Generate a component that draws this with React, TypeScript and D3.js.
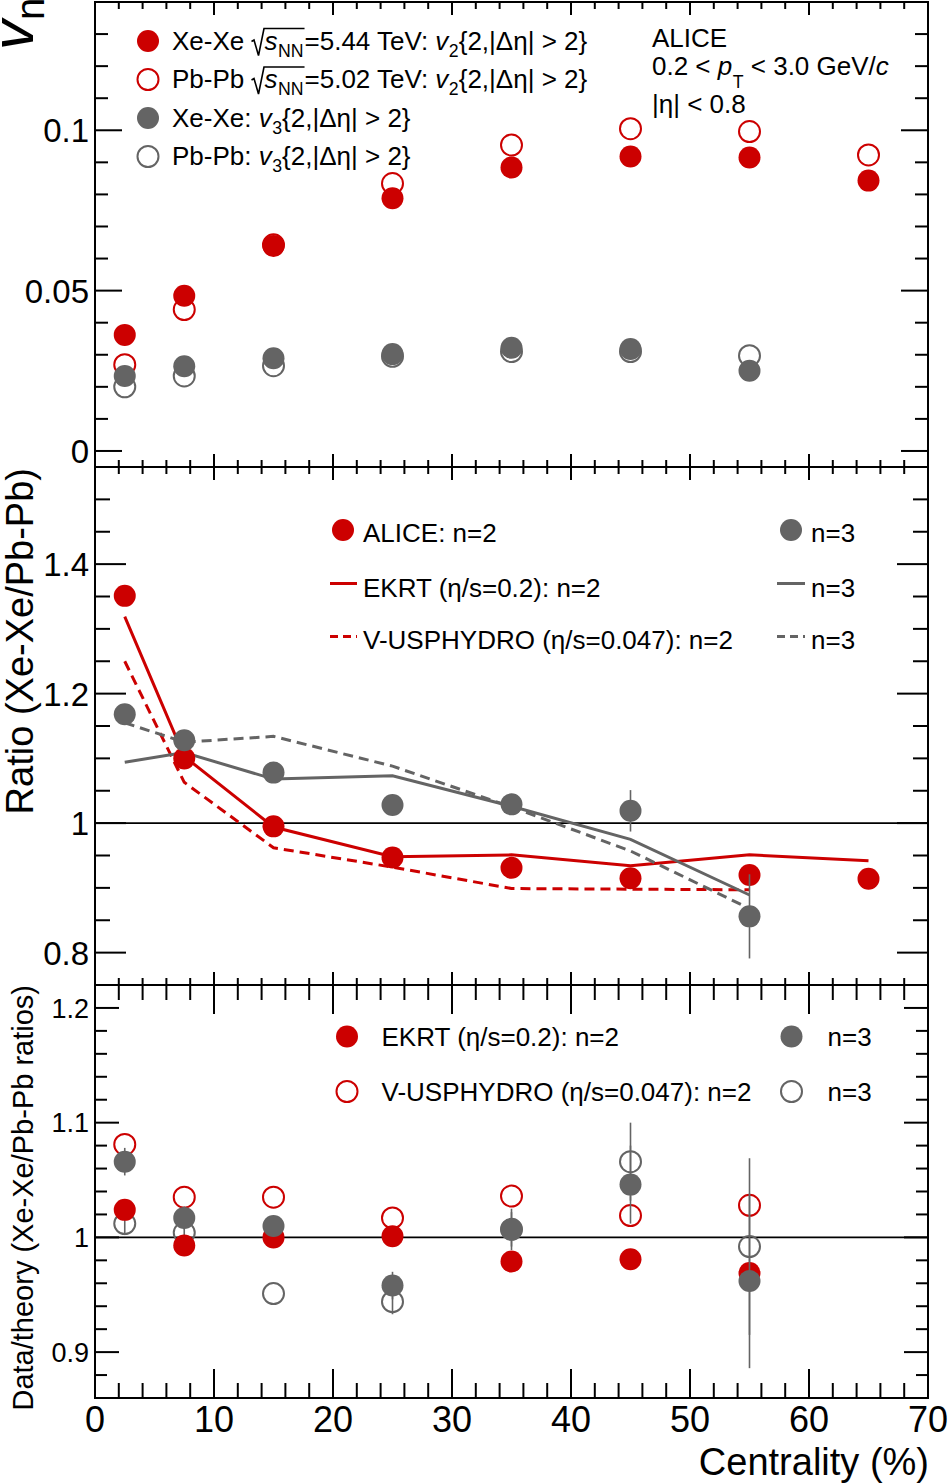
import React, { useRef, useEffect } from 'react';
import * as d3 from 'd3';

// centrality bin centres (%)
const centrality = [2.5, 7.5, 15, 25, 35, 45, 55, 65];

// top panel: v_n{2,|deta|>2}
const xeV2 = [0.0362, 0.0484, 0.0639, 0.0788, 0.0884, 0.0918, 0.0915, 0.0843];
const pbV2 = [0.0269, 0.0441, 0.0643, 0.0834, 0.0954, 0.1005, 0.0996, 0.0923];
const xeV3 = [0.0234, 0.0264, 0.0289, 0.0302, 0.0322, 0.0318, 0.0250];
const pbV3 = [0.0200, 0.0234, 0.0266, 0.0295, 0.0310, 0.0310, 0.0297];

// middle panel: Xe-Xe / Pb-Pb ratios
const ratioV2 = [1.351, 1.100, 0.995, 0.947, 0.931, 0.915, 0.920, 0.914];
const ratioV3 = [1.168, 1.128, 1.078, 1.028, 1.029, 1.019, 0.856];
const ratioV3Err = [0.004, 0.004, 0.005, 0.006, 0.008, 0.032, 0.065];
const ekrtV2 = [1.319, 1.103, 0.994, 0.948, 0.951, 0.934, 0.951, 0.942];
const ekrtV3 = [1.094, 1.109, 1.068, 1.073, 1.026, 0.975, 0.889];
const vusV2 = [1.250, 1.063, 0.962, 0.932, 0.899, 0.898, 0.897];
const vusV3 = [1.155, 1.125, 1.134, 1.088, 1.025, 0.957, 0.868];

// bottom panel: data / theory
const dtEkrtV2 = [1.024, 0.993, 1.000, 1.001, 0.979, 0.981, 0.969];
const dtVusV2 = [1.081, 1.035, 1.035, 1.017, 1.036, 1.019, 1.028];
const dtEkrtV3 = [1.066, 1.017, 1.010, 0.958, 1.007, 1.046, 0.962];
const dtEkrtV3Err = [0.012, 0.010, 0.006, 0.012, 0.018, 0.034, 0.076];
const dtVusV3 = [1.012, 1.004, 0.951, 0.944, 1.007, 1.066, 0.992];
const dtVusV3Err = [0.010, 0.009, 0.000, 0.011, 0.015, 0.034, 0.077];

// axis ticks
const xTicks = [0, 10, 20, 30, 40, 50, 60, 70];
const topYTicks = [0, 0.05, 0.1];
const topYLabels = ['0', '0.05', '0.1'];
const midYTicks = [0.8, 1.0, 1.2, 1.4];
const midYLabels = ['0.8', '1', '1.2', '1.4'];
const botYTicks = [0.9, 1.0, 1.1, 1.2];
const botYLabels = ['0.9', '1', '1.1', '1.2'];

const RED = '#cc0000';
const GRAY = '#646464';
const FONT = '"Liberation Sans", Arial, Helvetica, sans-serif';
const LEG = 26;

type Part = { t: string; it?: boolean; sub?: string; shift?: number } | { sqrt: Part[] };
type G = d3.Selection<SVGGElement, unknown, null, undefined>;

function richText(g: G, x: number, y: number, parts: Part[], size: number): number {
  let cx = x;
  for (const p of parts) {
    if ('sqrt' in p) {
      const x0 = cx;
      const end = richText(g, x0 + 13, y, p.sqrt, size);
      g.append('path')
        .attr('d', `M${x0},${y - 8} L${x0 + 2.5},${y - 9.5} L${x0 + 7},${y + 6} L${x0 + 12.5},${y - 21} L${end + 1},${y - 21}`)
        .attr('fill', 'none').attr('stroke', '#000').attr('stroke-width', 1.6);
      cx = end + 1;
      continue;
    }
    const t = g.append('text')
      .attr('x', cx).attr('y', y)
      .attr('font-size', size).attr('font-family', FONT)
      .attr('font-style', p.it ? 'italic' : 'normal')
      .style('white-space', 'pre')
      .text(p.t);
    let w = (t.node() as SVGTextElement).getComputedTextLength();
    if (p.sub) {
      const s = g.append('text')
        .attr('x', cx + w + 0.5).attr('y', y + size * (p.shift ?? 0.27))
        .attr('font-size', size * 0.68).attr('font-family', FONT)
        .text(p.sub);
      w += (s.node() as SVGTextElement).getComputedTextLength() + 0.5;
    }
    cx += w;
  }
  return cx;
}

const App: React.FC = () => {
  const svgRef = useRef<SVGSVGElement>(null);

  useEffect(() => {
    if (!svgRef.current) return;
    const svg = d3.select(svgRef.current);
    svg.selectAll('*').remove();

    const x = d3.scaleLinear().domain([0, 70]).range([95, 928]);
    const yTop = d3.scaleLinear().domain([-0.005, 0.14]).range([467, 2]);
    const yMid = d3.scaleLinear().domain([0.75, 1.55]).range([985, 467]);
    const yBot = d3.scaleLinear().domain([0.86, 1.22]).range([1398, 985]);

    const root = svg.append('g') as G;

    const line = (g: G, x1: number, y1: number, x2: number, y2: number, w = 2) =>
      g.append('line').attr('x1', x1).attr('y1', y1).attr('x2', x2).attr('y2', y2)
        .attr('stroke', '#000').attr('stroke-width', w);

    // frame with ticks on all four sides
    const frame = (
      y: d3.ScaleLinear<number, number>, majors: number[], labels: string[], minorStep: number,
      yMaj: number, yMin: number, xMaj: number, xMin: number, labelSize: number,
    ) => {
      const g = root.append('g') as G;
      const [yb, yt] = y.range();
      const [d0, d1] = y.domain();
      const xl = x(0), xr = x(70);
      xTicks.forEach(v => {
        line(g, x(v), yb, x(v), yb - xMaj);
        line(g, x(v), yt, x(v), yt + xMaj);
      });
      d3.range(2, 70, 2).filter(v => v % 10 !== 0).forEach(v => {
        line(g, x(v), yb, x(v), yb - xMin);
        line(g, x(v), yt, x(v), yt + xMin);
      });
      majors.forEach((v, i) => {
        line(g, xl, y(v), xl + yMaj, y(v));
        line(g, xr, y(v), xr - yMaj, y(v));
        g.append('text').attr('x', 89).attr('y', y(v)).attr('dy', '0.36em')
          .attr('text-anchor', 'end').attr('font-size', labelSize).attr('font-family', FONT)
          .text(labels[i]);
      });
      const i0 = Math.ceil(d0 / minorStep - 1e-6);
      const i1 = Math.floor(d1 / minorStep + 1e-6);
      d3.range(i0, i1 + 1).map(i => i * minorStep)
        .filter(v => !majors.some(m => Math.abs(m - v) < 1e-6))
        .filter(v => Math.abs(y(v) - yb) > 1 && Math.abs(y(v) - yt) > 1)
        .forEach(v => {
          line(g, xl, y(v), xl + yMin, y(v));
          line(g, xr, y(v), xr - yMin, y(v));
        });
      g.append('rect').attr('x', xl).attr('y', yt).attr('width', xr - xl).attr('height', yb - yt)
        .attr('fill', 'none').attr('stroke', '#000').attr('stroke-width', 2);
    };

    const marker = (g: G, cx: number, cy: number, color: string, filled: boolean) =>
      g.append('circle').attr('cx', cx).attr('cy', cy).attr('r', filled ? 11 : 10.5)
        .attr('fill', filled ? color : 'none')
        .attr('stroke', filled ? 'none' : color).attr('stroke-width', 2);

    const series = (
      y: d3.ScaleLinear<number, number>, vals: number[], color: string, filled: boolean, errs?: number[],
    ) => {
      const g = root.append('g') as G;
      vals.forEach((v, i) => {
        if (errs && errs[i] > 0) {
          g.append('line').attr('x1', x(centrality[i])).attr('x2', x(centrality[i]))
            .attr('y1', y(v - errs[i])).attr('y2', y(v + errs[i]))
            .attr('stroke', color).attr('stroke-width', 1.6);
        }
        marker(g, x(centrality[i]), y(v), color, filled);
      });
    };

    const model = (y: d3.ScaleLinear<number, number>, vals: number[], color: string, dash?: string) => {
      const path = d3.line<number>().x((_, i) => x(centrality[i])).y(v => y(v));
      root.append('path').attr('d', path(vals) ?? '')
        .attr('fill', 'none').attr('stroke', color).attr('stroke-width', 3)
        .attr('stroke-dasharray', dash ?? null);
    };

    const unity = (y: d3.ScaleLinear<number, number>) =>
      line(root, x(0), y(1), x(70), y(1), 1.8);

    // ---------- top panel ----------
    frame(yTop, topYTicks, topYLabels, 0.01, 27, 13, 13, 7, 33);
    series(yTop, pbV2, RED, false);
    series(yTop, pbV3, GRAY, false);
    series(yTop, xeV2, RED, true);
    series(yTop, xeV3, GRAY, true);

    const leg = root.append('g') as G;
    const topRows: { filled: boolean; color: string; parts: Part[] }[] = [
      { filled: true, color: RED, parts: [{ t: 'Xe-Xe ' }, { sqrt: [{ t: 's', it: true, sub: 'NN' }] }, { t: '=5.44 TeV: ' }, { t: 'v', it: true, sub: '2' }, { t: '{2,|Δη| > 2}' }] },
      { filled: false, color: RED, parts: [{ t: 'Pb-Pb ' }, { sqrt: [{ t: 's', it: true, sub: 'NN' }] }, { t: '=5.02 TeV: ' }, { t: 'v', it: true, sub: '2' }, { t: '{2,|Δη| > 2}' }] },
      { filled: true, color: GRAY, parts: [{ t: 'Xe-Xe: ' }, { t: 'v', it: true, sub: '3' }, { t: '{2,|Δη| > 2}' }] },
      { filled: false, color: GRAY, parts: [{ t: 'Pb-Pb: ' }, { t: 'v', it: true, sub: '3' }, { t: '{2,|Δη| > 2}' }] },
    ];
    topRows.forEach((r, i) => {
      const base = 49.5 + i * 38.5;
      marker(leg, 148, base - 8.5, r.color, r.filled);
      richText(leg, 172, base, r.parts, LEG);
    });
    richText(leg, 652, 47, [{ t: 'ALICE' }], LEG);
    richText(leg, 652, 75, [{ t: '0.2 < ' }, { t: 'p', it: true, sub: 'T', shift: 0.5 }, { t: ' < 3.0 GeV/' }, { t: 'c', it: true }], LEG);
    richText(leg, 652, 113, [{ t: '|η| < 0.8' }], LEG);

    // y title top: v_n
    root.append('text').attr('transform', 'translate(33,50) rotate(-90)')
      .attr('font-family', FONT)
      .call(t => {
        t.append('tspan').attr('font-size', 60).attr('font-style', 'italic').text('v');
        t.append('tspan').attr('font-size', 40).attr('dy', 11).text('n');
      });

    // ---------- middle panel ----------
    frame(yMid, midYTicks, midYLabels, 0.05, 31, 15, 13, 7, 33);
    unity(yMid);
    model(yMid, ekrtV2, RED);
    model(yMid, vusV2, RED, '10,6');
    model(yMid, ekrtV3, GRAY);
    model(yMid, vusV3, GRAY, '10,6');
    series(yMid, ratioV2, RED, true);
    series(yMid, ratioV3, GRAY, true, ratioV3Err);

    const leg2 = root.append('g') as G;
    marker(leg2, 343, 530, RED, true);
    line(leg2, 330, 583.5, 357, 583.5, 3).attr('stroke', RED);
    line(leg2, 330, 636.5, 357, 636.5, 3).attr('stroke', RED).attr('stroke-dasharray', '8,5');
    richText(leg2, 363, 541.5, [{ t: 'ALICE: n=2' }], LEG);
    richText(leg2, 363, 596.5, [{ t: 'EKRT (η/s=0.2): n=2' }], LEG);
    richText(leg2, 363, 648.5, [{ t: 'V-USPHYDRO (η/s=0.047): n=2' }], LEG);
    marker(leg2, 791, 530, GRAY, true);
    line(leg2, 777, 583.5, 805, 583.5, 3).attr('stroke', GRAY);
    line(leg2, 777, 636.5, 805, 636.5, 3).attr('stroke', GRAY).attr('stroke-dasharray', '8,5');
    richText(leg2, 811, 541.5, [{ t: 'n=3' }], LEG);
    richText(leg2, 811, 596.5, [{ t: 'n=3' }], LEG);
    richText(leg2, 811, 648.5, [{ t: 'n=3' }], LEG);

    root.append('text').attr('transform', 'translate(33,468) rotate(-90)')
      .attr('text-anchor', 'end').attr('font-size', 38).attr('font-family', FONT)
      .text('Ratio (Xe-Xe/Pb-Pb)');

    // ---------- bottom panel ----------
    frame(yBot, botYTicks, botYLabels, 0.02, 24, 12, 29, 15, 27);
    unity(yBot);
    series(yBot, dtVusV2, RED, false);
    series(yBot, dtVusV3, GRAY, false, dtVusV3Err);
    series(yBot, dtEkrtV2, RED, true);
    series(yBot, dtEkrtV3, GRAY, true, dtEkrtV3Err);

    const leg3 = root.append('g') as G;
    marker(leg3, 347, 1036.5, RED, true);
    marker(leg3, 347, 1091.5, RED, false);
    marker(leg3, 791.5, 1036.5, GRAY, true);
    marker(leg3, 791.5, 1091.5, GRAY, false);
    richText(leg3, 381.5, 1045.5, [{ t: 'EKRT (η/s=0.2): n=2' }], LEG);
    richText(leg3, 381.5, 1100.5, [{ t: 'V-USPHYDRO (η/s=0.047): n=2' }], LEG);
    richText(leg3, 827.5, 1045.5, [{ t: 'n=3' }], LEG);
    richText(leg3, 827.5, 1100.5, [{ t: 'n=3' }], LEG);

    root.append('text').attr('transform', 'translate(33,985) rotate(-90)')
      .attr('text-anchor', 'end').attr('font-size', 29).attr('font-family', FONT)
      .text('Data/theory (Xe-Xe/Pb-Pb ratios)');

    // x axis labels
    xTicks.forEach(v => {
      root.append('text').attr('x', x(v)).attr('y', 1432).attr('text-anchor', 'middle')
        .attr('font-size', 36).attr('font-family', FONT).text(String(v));
    });
    root.append('text').attr('x', 929).attr('y', 1475).attr('text-anchor', 'end')
      .attr('font-size', 38).attr('font-family', FONT).text('Centrality (%)');
  }, []);

  return (
    <div>
      <svg ref={svgRef} width={950} height={1484}
        style={{ position: 'absolute', left: 0, top: 0, display: 'block', background: '#fff' }} />
    </div>
  );
};

export default App;
